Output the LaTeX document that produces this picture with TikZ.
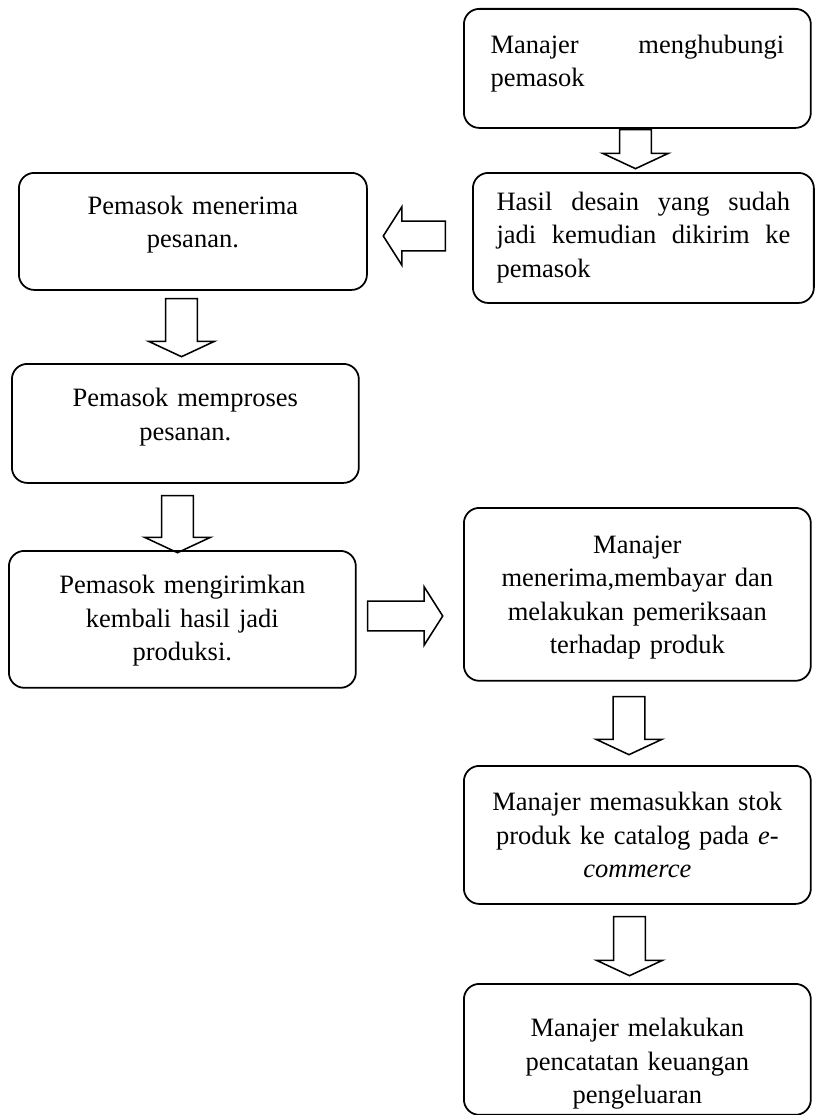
\documentclass[tikz,border=0pt]{standalone}
\usepackage{fontspec}
\setmainfont{Liberation Serif}
\usetikzlibrary{shapes.arrows}

\begin{document}
\begin{tikzpicture}
		[x=0.4528pt,y=-0.4528pt,
			boxDecorate/.style={draw,line width=0.8pt,rounded corners=7pt,anchor=north west,
					inner xsep=2pt,inner ysep=0pt,text width=133pt,align=center,
					font=\fontsize{12pt}{15pt}\selectfont},
			downDecorate/.style={single arrow,draw,line width=0.7pt,inner sep=6.8pt,
					minimum width=29pt,single arrow head extend=7.7pt,single arrow tip angle=130},
			sideDecorate/.style={single arrow,draw,line width=0.7pt,inner sep=6.35pt,
					minimum width=25.8pt,single arrow head extend=6.55pt,single arrow tip angle=115}]
		\path[use as bounding box,fill=white] (0,0) rectangle (814,1115);
		% kolom kanan atas
		\node (menghubungi) at (463,8) [boxDecorate,align=justify,minimum width=157.1pt,
			text height=20.2pt,text depth=33.7pt] {Manajer menghubungi\linebreak pemasok};
		\node (hasil) at (472,172) [boxDecorate,align=justify,minimum width=154.4pt,
			text height=17.2pt,text depth=41.7pt] {Hasil desain yang sudah\linebreak jadi kemudian dikirim ke\linebreak pemasok};
		% kolom kiri
		\node (terima) at (18,172) [boxDecorate,minimum width=157.6pt,
			text height=19pt,text depth=34pt] {Pemasok menerima\\pesanan.};
		\node (proses) at (11,363) [boxDecorate,minimum width=157.1pt,
			text height=19.5pt,text depth=34.4pt] {Pemasok memproses\\pesanan.};
		\node (kirim) at (8,550) [boxDecorate,minimum width=157.1pt,
			text height=19.5pt,text depth=42.5pt] {Pemasok mengirimkan\\kembali hasil jadi\\produksi.};
		% kolom kanan bawah
		\node (periksa) at (463,507) [boxDecorate,minimum width=157.1pt,
			text height=20.8pt,text depth=57.5pt] {Manajer\\menerima,membayar dan\\melakukan pemeriksaan\\terhadap produk};
		\node (stok) at (463,765) [boxDecorate,minimum width=157.1pt,
			text height=20.4pt,text depth=42.1pt] {Manajer memasukkan stok\\produk ke catalog pada \textit{e-}\\\textit{commerce}};
		\node (catat) at (463,983) [boxDecorate,minimum width=157.1pt,
			text height=24pt,text depth=35.3pt] {Manajer melakukan\\pencatatan keuangan\\pengeluaran};
		% panah blok
		\foreach \arrowname/\x/\y/\len/\rot/\kind in {
				toHasil/635.5/145.5/35/270/down, toTerima/419/236/62/180/side,
				toProses/181.5/324/58/270/down, toKirim/177.5/520.5/57/270/down,
				toPeriksa/400.5/616/75/0/side, toStok/629/722/58/270/down,
				toCatat/629.5/942.5/59/270/down}
			{
				\node (\arrowname) at (\x,\y) [\kind Decorate,minimum height=\len*0.4528pt,shape border rotate=\rot] {};
			}
	\end{tikzpicture}
\end{document}
